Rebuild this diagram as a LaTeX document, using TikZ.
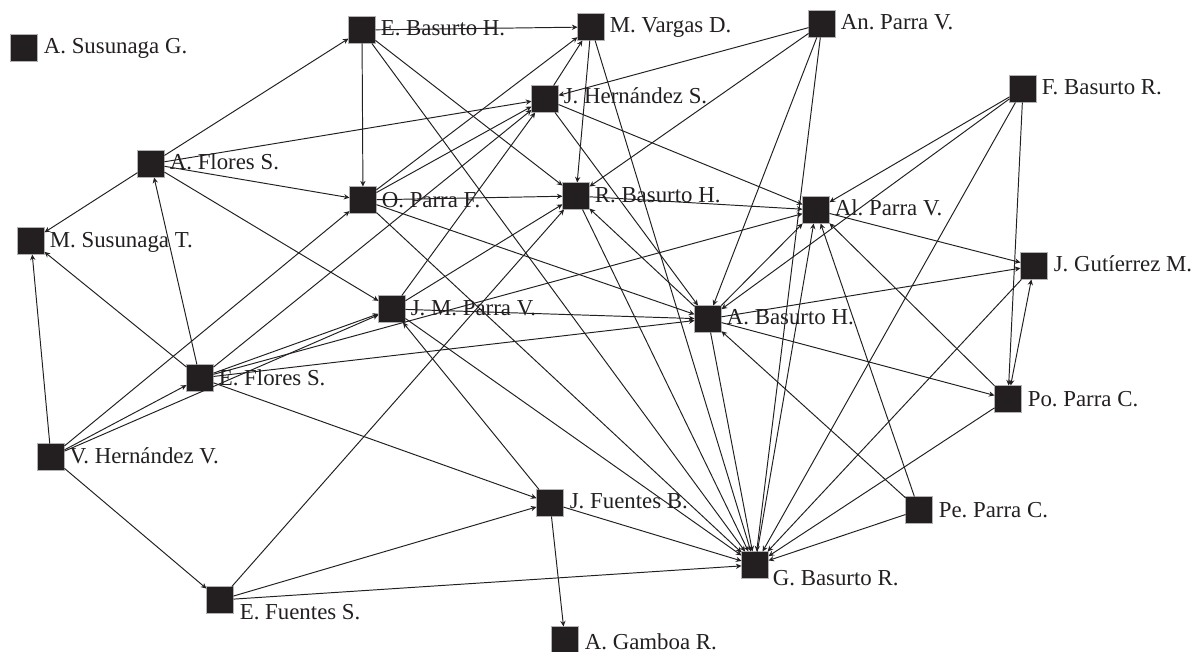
\documentclass[tikz,border=0pt]{standalone}
\usepackage{fontspec}
\setmainfont{Liberation Serif}
\usetikzlibrary{arrows.meta,calc}
\definecolor{ink}{HTML}{231F20}
\frenchspacing
\tikzset{
  sq/.style={draw=black!30, line width=0.3pt, fill=ink, minimum size=0.54cm, inner sep=0pt, outer sep=0pt},
  lbl/.style={font=\fontsize{13}{15}\selectfont, text=ink, inner sep=0pt, anchor=base west},
  edge/.style={draw=ink, line width=0.55pt, -{Stealth[length=3.2pt,width=3pt]}},
  both/.style={draw=ink, line width=0.55pt, {Stealth[length=3.2pt,width=3pt]}-{Stealth[length=3.2pt,width=3pt]}},
}
\begin{document}
\begin{tikzpicture}[x=0.02cm,y=-0.02cm]
\path[use as bounding box] (0,0) rectangle (1197,652);
% nodes
\node[sq] (asg) at (24,48) {};
\node[sq] (eb) at (362,30) {};
\node[sq] (mv) at (591,27) {};
\node[sq] (anp) at (822,24) {};
\node[sq] (fb) at (1023,89) {};
\node[sq] (jh) at (545,99) {};
\node[sq] (af) at (151,164) {};
\node[sq] (op) at (363,200) {};
\node[sq] (rb) at (576,196) {};
\node[sq] (alp) at (816,210) {};
\node[sq] (mst) at (31,241) {};
\node[sq] (jg) at (1034,266) {};
\node[sq] (jmp) at (392,309) {};
\node[sq] (ab) at (708,319) {};
\node[sq] (ef) at (200,378) {};
\node[sq] (pop) at (1008,399) {};
\node[sq] (vh) at (51,457) {};
\node[sq] (jf) at (550,503) {};
\node[sq] (pep) at (919,510) {};
\node[sq] (gb) at (755,565) {};
\node[sq] (efs) at (220,600) {};
\node[sq] (ag) at (565,640) {};
% labels
\node[lbl] (tasg) at ($(asg.east)+(6,6)$) {A. Susunaga G.};
\node[lbl] (teb) at ($(eb.east)+(5,6)$) {E. Basurto H.};
\node[lbl] (tmv) at ($(mv.east)+(5,6)$) {M. Vargas D.};
\node[lbl] (tanp) at ($(anp.east)+(5,6)$) {An. Parra V.};
\node[lbl] (tfb) at ($(fb.east)+(5,6)$) {F. Basurto R.};
\node[lbl] (tjh) at ($(jh.east)+(5,5)$) {J. Hernández S.};
\node[lbl] (taf) at ($(af.east)+(5,6)$) {A. Flores S.};
\node[lbl] (top) at ($(op.east)+(5,7)$) {O. Parra F.};
\node[lbl] (trb) at ($(rb.east)+(5,6)$) {R. Basurto H.};
\node[lbl] (talp) at ($(alp.east)+(5,5)$) {Al. Parra V.};
\node[lbl] (tmst) at ($(mst.east)+(5,6)$) {M. Susunaga T.};
\node[lbl] (tjg) at ($(jg.east)+(6,5)$) {J. Gutíerrez M.};
\node[lbl] (tjmp) at ($(jmp.east)+(5,6)$) {J. M. Parra V.};
\node[lbl] (tab) at ($(ab.east)+(5,5)$) {A. Basurto H.};
\node[lbl] (tef) at ($(ef.east)+(5,7)$) {E. Flores S.};
\node[lbl] (tpop) at ($(pop.east)+(6,7)$) {Po. Parra C.};
\node[lbl] (tvh) at ($(vh.east)+(5,6)$) {V. Hernández V.};
\node[lbl] (tjf) at ($(jf.east)+(6,5)$) {J. Fuentes B.};
\node[lbl] (tpep) at ($(pep.east)+(6,7)$) {Pe. Parra C.};
\node[lbl] (tgb) at ($(gb.east)+(4,20)$) {G. Basurto R.};
\node[lbl] (tefs) at ($(efs.east)+(6,19)$) {E. Fuentes S.};
\node[lbl] (tag) at ($(ag.east)+(6,9)$) {A. Gamboa R.};
% edges
\draw[edge] (eb) -- (mv);
\draw[edge] (eb) -- (op);
\draw[edge] (af) -- (eb);
\draw[edge] (eb) -- (rb);
\draw[edge] (eb) -- (gb);
\draw[edge] (op) -- (mv);
\draw[edge] (jh) -- (mv);
\draw[edge] (mv) -- (rb);
\draw[edge] (mv) -- (gb);
\draw[edge] (af) -- (jh);
\draw[edge] (af) -- (op);
\draw[edge] (af) -- (jmp);
\draw[edge] (af) -- (mst);
\draw[edge] (ef) -- (af);
\draw[edge] (vh) -- (mst);
\draw[edge] (ef) -- (mst);
\draw[edge] (vh) -- (ef);
\draw[edge] (ef) -- (jmp);
\draw[edge] (ef) -- (ab);
\draw[edge] (ef) -- (jh);
\draw[edge] (vh) -- (op);
\draw[edge] (vh) -- (jmp);
\draw[edge] (vh) -- (efs);
\draw[edge] (efs) -- (rb);
\draw[edge] (efs) -- (jf);
\draw[edge] (efs) -- (gb);
\draw[edge] (jf) -- (ag);
\draw[edge] (jf) -- (gb);
\draw[edge] (ef) -- (jf);
\draw[edge] (jf) -- (jmp);
\draw[edge] (op) -- (gb);
\draw[edge] (jmp) -- (gb);
\draw[edge] (rb) -- (gb);
\draw[edge] (ab) -- (gb);
\draw[edge] (anp) -- (gb);
\draw[edge] (gb) -- (alp);
\draw[edge] (fb) -- (gb);
\draw[edge] (jg) -- (gb);
\draw[edge] (pop) -- (gb);
\draw[edge] (pep) -- (gb);
\draw[edge] (pep) -- (ab);
\draw[edge] (pep) -- (alp);
\draw[edge] (anp) -- (ab);
\draw[edge] (anp) -- (jh);
\draw[edge] (jh) -- (alp);
\draw[edge] (jh) -- (ab);
\draw[edge] (jmp) -- (jh);
\draw[edge] (op) -- (jh);
\draw[edge] (op) -- (rb);
\draw[edge] (op) -- (ab);
\draw[edge] (rb) -- (alp);
\draw[edge] (anp) -- (rb);
\draw[edge] (ab) -- (rb);
\draw[edge] (jmp) -- (rb);
\draw[edge] (jmp) -- (ab);
\draw[edge] (ef) -- (alp);
\draw[edge] (alp) -- (jg);
\draw[edge] (ab) -- (jg);
\draw[edge] (ab) -- (pop);
\draw[edge] (ab) -- (alp);
\draw[edge] (fb) -- (alp);
\draw[edge] (fb) -- (ab);
\draw[edge] (fb) -- (pop);
\draw[both] (pop) -- (jg);
\draw[edge] (pop) -- (alp);
\end{tikzpicture}
\end{document}
